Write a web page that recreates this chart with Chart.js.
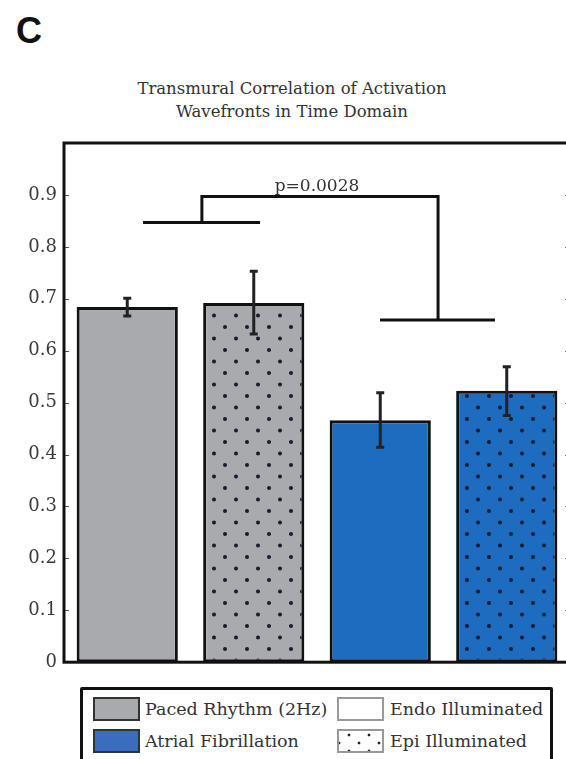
<!DOCTYPE html>
<html>
<head>
  <title>Transmural Correlation</title>
  <script src="https://cdn.jsdelivr.net/npm/chart.js"></script>
  <style>
    body { margin: 0; background: #fff; overflow: hidden; }
    #wrap { position: relative; width: 566px; height: 759px; overflow: hidden; }
    #panel { position: absolute; left: 16px; top: 10px; font: bold 36px "Liberation Sans", Arial, sans-serif; color: #111; }
    #title { position: absolute; left: 0; top: 77px; width: 584px; text-align: center;
             font: 16.5px/23px "DejaVu Serif", serif; color: #333; }
    canvas { position: absolute; left: 0; top: 0; }
    .lg-box { position: absolute; left: 80px; top: 687px; width: 467px; height: 90px;
              border: 3px solid #111; border-radius: 2px; }
    .sw { position: absolute; width: 43px; height: 20px; }
    .lg-text { position: absolute; height: 24px; font: 17.5px/24px "DejaVu Serif", serif; color: #333; white-space: nowrap; }
  </style>
</head>
<body>
<div id="wrap">
  <div id="panel">C</div>
  <div id="title">Transmural Correlation of Activation<br>Wavefronts in Time Domain</div>
  <canvas id="corrChart" width="580" height="680"></canvas>

  <div class="lg-box"></div>
  <div class="sw" style="left:93px;top:697px;border:2px solid #333;background:#a9aaae"></div>
  <div class="lg-text" style="left:145px;top:697px">Paced Rhythm (2Hz)</div>
  <div class="sw" style="left:93px;top:729px;border:2px solid #333;background:#3a6cc0"></div>
  <div class="lg-text" style="left:145px;top:729px">Atrial Fibrillation</div>
  <div class="sw" style="left:337px;top:697px;border:2px solid #999;background:#fff"></div>
  <div class="lg-text" style="left:390px;top:697px">Endo Illuminated</div>
  <div class="sw" style="left:337px;top:729px;border:2px solid #999;background-color:#fff;
       background-image:radial-gradient(circle,#222 1.2px,transparent 1.7px),radial-gradient(circle,#222 1.2px,transparent 1.7px);
       background-size:20px 16px;background-position:0 -4px,10px 4px"></div>
  <div class="lg-text" style="left:390px;top:729px">Epi Illuminated</div>
</div>

<script>
  // group means and error bar limits
  const groups = ['Paced Endo', 'Paced Epi', 'AF Endo', 'AF Epi'];
  const means = [0.684, 0.692, 0.466, 0.523];
  const errLow = [0.667, 0.632, 0.414, 0.475];
  const errHigh = [0.701, 0.753, 0.519, 0.569];
  const yTicks = [0, 0.1, 0.2, 0.3, 0.4, 0.5, 0.6, 0.7, 0.8, 0.9];

  // significance bracket (x in group units 1..4)
  const bracketLeft = [{x: 1.125, y: 0.847}, {x: 2.05, y: 0.847}];
  const bracketRight = [{x: 2.998, y: 0.659}, {x: 3.907, y: 0.659}];
  const bracketJoin = [{x: 1.59, y: 0.847}, {x: 1.59, y: 0.897}, {x: 3.457, y: 0.897}, {x: 3.457, y: 0.659}];
  const pLabel = 'p=0.0028';
  const pLabelPos = {x: 2.5, y: 0.897};

  const GRAY = '#a9aaae';
  const BLUE = '#1e6cbf';

  function dots(bg) {
    const c = document.createElement('canvas');
    c.width = 22; c.height = 23;
    const g = c.getContext('2d');
    g.fillStyle = bg;
    g.fillRect(0, 0, 22, 23);
    g.fillStyle = '#161c2a';
    [[5, 5], [16, 16.5]].forEach(([x, y]) => {
      g.beginPath(); g.arc(x, y, 2, 0, Math.PI * 2); g.fill();
    });
    return g.createPattern(c, 'repeat');
  }

  const errorBars = {
    id: 'errorBars',
    afterDatasetsDraw(chart) {
      const ctx = chart.ctx, y = chart.scales.y;
      const meta = chart.getDatasetMeta(0);
      ctx.save();
      ctx.strokeStyle = '#222';
      ctx.lineWidth = 3;
      meta.data.forEach((bar, i) => {
        const top = y.getPixelForValue(errHigh[i]), bot = y.getPixelForValue(errLow[i]);
        ctx.beginPath();
        ctx.moveTo(bar.x, top); ctx.lineTo(bar.x, bot);
        ctx.moveTo(bar.x - 4, top); ctx.lineTo(bar.x + 4, top);
        ctx.moveTo(bar.x - 4, bot); ctx.lineTo(bar.x + 4, bot);
        ctx.stroke();
      });
      // p value over the bracket
      ctx.fillStyle = '#333';
      ctx.font = '17px "DejaVu Serif", serif';
      ctx.textAlign = 'center';
      ctx.textBaseline = 'alphabetic';
      ctx.fillText(pLabel, chart.scales.x2.getPixelForValue(pLabelPos.x), y.getPixelForValue(pLabelPos.y) - 5);
      ctx.restore();
    }
  };

  const frame = {
    id: 'frame',
    afterDraw(chart) {
      const {ctx, chartArea: a, scales: {y}} = chart;
      ctx.save();
      ctx.strokeStyle = '#555';
      ctx.lineWidth = 1;
      ctx.beginPath();
      yTicks.slice(1).forEach(v => {
        const py = Math.round(y.getPixelForValue(v)) + 0.5;
        ctx.moveTo(a.left, py); ctx.lineTo(a.left + 5, py);
        ctx.moveTo(a.right, py); ctx.lineTo(a.right - 5, py);
      });
      ctx.stroke();
      ctx.strokeStyle = '#111';
      ctx.lineWidth = 3;
      ctx.strokeRect(a.left, a.top, a.right - a.left, a.bottom - a.top);
      ctx.restore();
    }
  };

  const lineStyle = {type: 'line', xAxisID: 'x2', borderColor: '#111', borderWidth: 3,
                     pointRadius: 0, fill: false, tension: 0};

  new Chart(document.getElementById('corrChart'), {
    type: 'bar',
    data: {
      labels: groups,
      datasets: [
        {
          type: 'bar',
          data: means,
          backgroundColor: [GRAY, dots(GRAY), BLUE, dots(BLUE)],
          borderColor: '#111',
          borderWidth: 3,
          borderSkipped: false,
          grouped: false,
          barPercentage: 0.8,
          categoryPercentage: 1
        },
        Object.assign({data: bracketLeft}, lineStyle),
        Object.assign({data: bracketRight}, lineStyle),
        Object.assign({data: bracketJoin}, lineStyle)
      ]
    },
    options: {
      responsive: false,
      animation: false,
      layout: {padding: {top: 143, right: 10, bottom: 15, left: 0}},
      plugins: {legend: {display: false}, tooltip: {enabled: false}},
      scales: {
        x: {type: 'category', offset: true, display: false},
        x2: {type: 'linear', offset: false, display: false, min: 0.5, max: 4.5},
        y: {
          min: 0, max: 1,
          afterFit(scale) { scale.width = 64; },
          grid: {display: false, drawTicks: false},
          border: {display: false},
          afterBuildTicks(scale) { scale.ticks = yTicks.map(v => ({value: v})); },
          ticks: {
            padding: 7,
            color: '#3a3a3a',
            font: {family: '"DejaVu Serif", serif', size: 18},
            callback: v => String(+v.toFixed(1))
          }
        }
      }
    },
    plugins: [errorBars, frame]
  });
</script>
</body>
</html>
